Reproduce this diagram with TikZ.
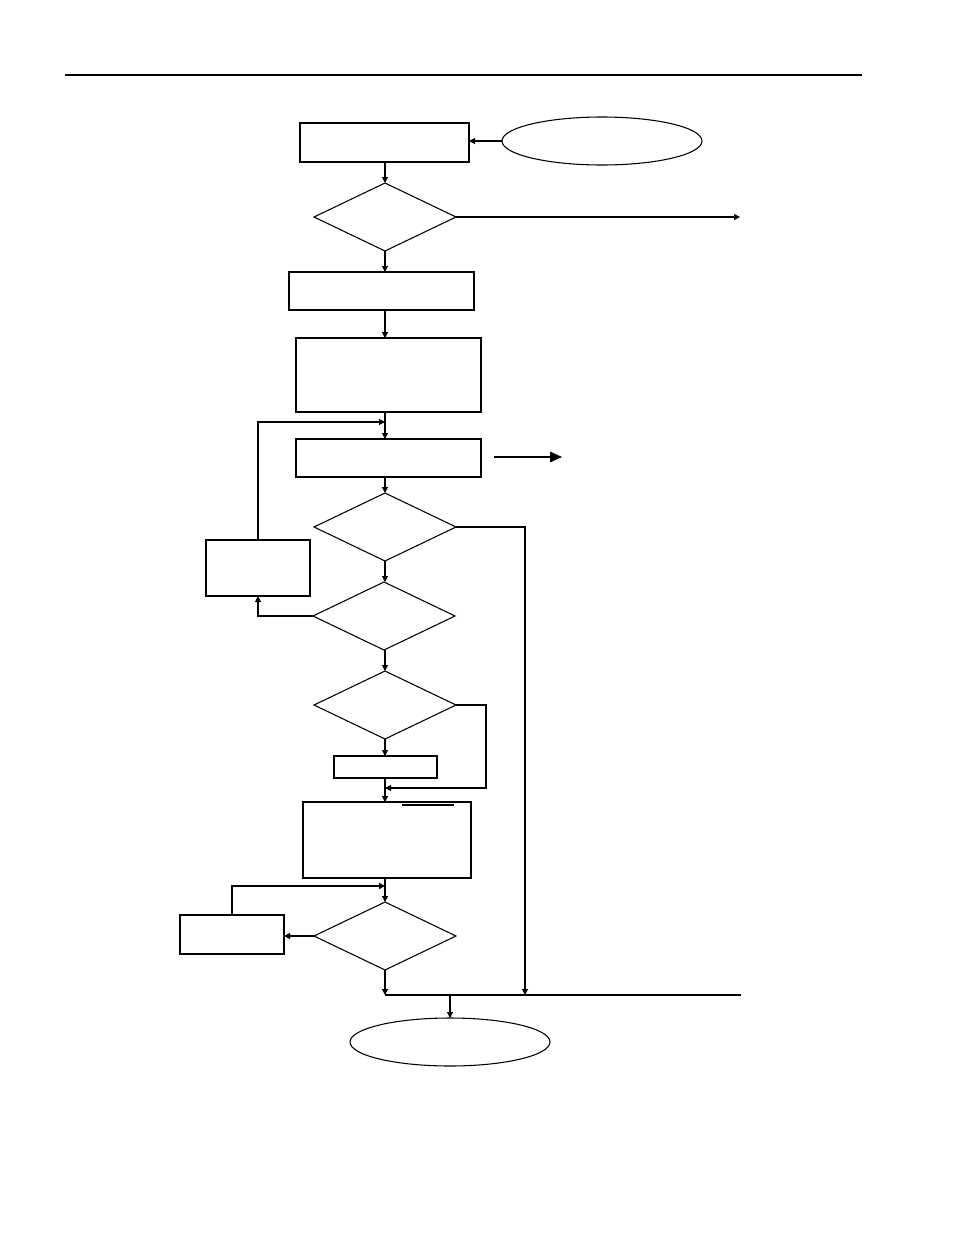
\documentclass[tikz,border=0pt]{standalone}
\usetikzlibrary{shapes.geometric,arrows.meta}
\begin{document}
\begin{tikzpicture}[x=0.75pt,y=-0.75pt,
  every path/.style={line width=0.8pt},
  boxnode/.style 2 args={draw,rectangle,inner sep=0pt,outer sep=0pt,minimum width=#1*0.75pt,minimum height=#2*0.75pt},
  decnode/.style={draw,diamond,inner sep=0pt,outer sep=0pt,minimum width=142*0.75pt,minimum height=68*0.75pt},
  termnode/.style={draw,ellipse,inner sep=0pt,outer sep=0pt,minimum width=200*0.75pt,minimum height=48*0.75pt},
  arr/.style={-{Triangle[length=4.5pt,width=4.5pt]}},
  bigarr/.style={-{Triangle[length=9pt,width=8pt]}},
  heavy/.style={line width=1.6pt}]
\useasboundingbox (0,0) rectangle (954,1235);
% header rule
\coordinate (r1) at (65,75);
\coordinate (r2) at (862,75);
\draw (r1) -- (r2);
% nodes
\node[boxnode={169}{39}] (b1) at (384.5,142.5) {};
\node[termnode] (e1) at (602,141) {};
\node[decnode] (d1) at (385,217) {};
\node[boxnode={185}{38}] (b2) at (381.5,291) {};
\node[boxnode={185}{74}] (b3) at (388.5,375) {};
\node[boxnode={185}{38}] (b4) at (388.5,458) {};
\node[decnode] (d2) at (385,527) {};
\node[boxnode={104}{56}] (b5) at (258,568) {};
\node[decnode] (d3) at (384,616) {};
\node[decnode] (d4) at (385,705) {};
\node[boxnode={103}{22}] (b6) at (385.5,767) {};
\node[boxnode={168}{76}] (b7) at (387,840) {};
\node[decnode] (d5) at (385,936) {};
\node[boxnode={104}{39}] (b8) at (232,934.5) {};
\node[termnode] (e2) at (450,1042) {};
% thicker top edges
\draw[heavy] (b5.north west) -- (b5.north east);
\draw[heavy] (b7.north west) -- (b7.north east);
\draw[heavy] (b8.north west) -- (b8.north east);
\coordinate (u1) at (402,805);
\coordinate (u2) at (454,805);
\draw (u1) -- (u2);
% helper coordinates
\coordinate (c0) at (740,217);
\coordinate (j1) at (385,422);
\coordinate (a1) at (494,457);
\coordinate (a2) at (562,457);
\coordinate (c2) at (486,788);
\coordinate (j2) at (385,788);
\coordinate (j5) at (385,886);
\coordinate (j4) at (385,995);
\coordinate (j3) at (525,995);
\coordinate (c4) at (741,995);
% connectors
\draw[arr] (e1.west) -- (b1.east |- e1.west);
\draw[arr] (d1.north |- b1.south) -- (d1.north);
\draw[arr] (d1.east) -- (c0);
\draw[arr] (d1.south) -- (d1.south |- b2.north);
\draw[arr] (d1.south |- b2.south) -- (d1.south |- b3.north);
\draw[arr] (d1.south |- b3.south) -- (d1.south |- b4.north);
\draw[arr] (b5.north) |- (j1);
\draw[bigarr] (a1) -- (a2);
\draw[arr] (d2.north |- b4.south) -- (d2.north);
\draw[arr] (d2.east) -| (j3);
\draw[arr] (d2.south) -- (d2.south |- d3.north);
\draw[arr] (d3.west) -| (b5.south);
\draw[arr] (d2.south |- d3.south) -- (d2.south |- d4.north);
\draw[arr] (d4.south) -- (d4.south |- b6.north);
\draw[arr] (d4.east) -| (c2) -- (j2);
\draw[arr] (d4.south |- b6.south) -- (d4.south |- b7.north);
\draw[arr] (d5.north |- b7.south) -- (d5.north);
\draw[arr] (d5.west) -- (b8.east |- d5.west);
\draw[arr,heavy] (b8.north) |- (j5);
\draw[arr] (d5.south) -- (j4);
\draw (j4) -- (c4);
\draw[arr] (e2.north |- j4) -- (e2.north);
\end{tikzpicture}
\end{document}
